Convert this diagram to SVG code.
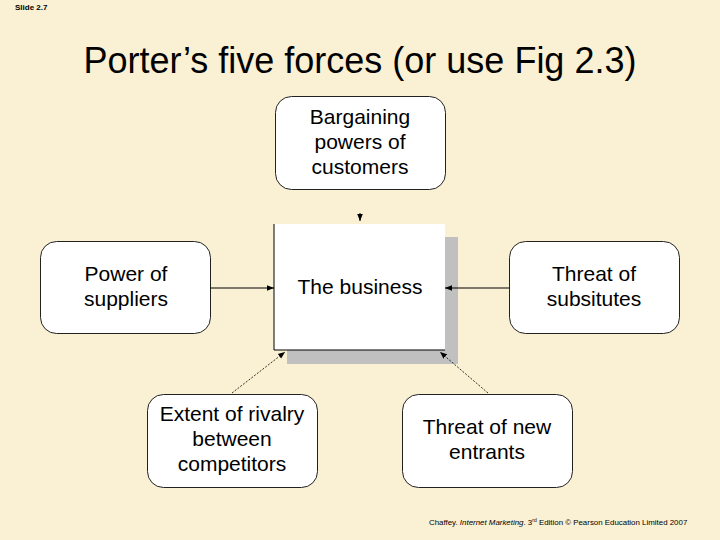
<svg xmlns="http://www.w3.org/2000/svg" width="720" height="540" viewBox="0 0 720 540">
<style>
.bg{fill:#FAF0D3}
.node{fill:#fff;stroke:#222;stroke-width:1}
.t{font-family:"Liberation Sans",Arial,sans-serif;font-size:21px;fill:#000;text-anchor:middle}
.conn{stroke:#000;stroke-width:1;fill:none}
.dash{stroke:#000;stroke-width:0.8;fill:none;stroke-dasharray:2 1.5}
</style>
<defs>
<marker id="ah" viewBox="0 0 10 10" refX="10" refY="5" markerWidth="7" markerHeight="7" orient="auto" markerUnits="userSpaceOnUse">
<path d="M0,1 L10,5 L0,9 Z" fill="#000"/>
</marker>
</defs>
<rect class="bg" x="0" y="0" width="720" height="540"/>
<text x="15" y="10" font-family="Liberation Sans,Arial,sans-serif" font-size="8" font-weight="bold" fill="#000">Slide 2.7</text>
<text x="360" y="73" font-family="Liberation Sans,Arial,sans-serif" font-size="36" text-anchor="middle" fill="#000">Porter’s five forces (or use Fig 2.3)</text>

<g id="business">
<rect x="287" y="237" width="171" height="127" fill="#C0C0C0"/>
<rect x="274" y="224" width="171" height="126" fill="#fff"/>
<polyline points="274,224 274,350 445,350" fill="none" stroke="#000" stroke-width="1"/>
<text class="t" x="360" y="294">The business</text>
</g>

<g id="customers">
<rect class="node" x="275.5" y="96.5" width="170" height="93" rx="16"/>
<text class="t" x="360" y="124">Bargaining</text>
<text class="t" x="360" y="149">powers of</text>
<text class="t" x="360" y="174">customers</text>
</g>

<g id="suppliers">
<rect class="node" x="40.5" y="241.5" width="170" height="92" rx="16"/>
<text class="t" x="126" y="281">Power of</text>
<text class="t" x="126" y="306">suppliers</text>
</g>

<g id="substitutes">
<rect class="node" x="509.5" y="241.5" width="170" height="92" rx="16"/>
<text class="t" x="594" y="281">Threat of</text>
<text class="t" x="594" y="306">subsitutes</text>
</g>

<g id="rivalry">
<rect class="node" x="147.5" y="394.5" width="170" height="93" rx="16"/>
<text class="t" x="232" y="421">Extent of rivalry</text>
<text class="t" x="232" y="446">between</text>
<text class="t" x="232" y="471">competitors</text>
</g>

<g id="entrants">
<rect class="node" x="402.5" y="394.5" width="170" height="93" rx="16"/>
<text class="t" x="487" y="434">Threat of new</text>
<text class="t" x="487" y="459">entrants</text>
</g>

<g id="connectors">
<line class="conn" x1="360" y1="213" x2="360" y2="221" marker-end="url(#ah)"/>
<line class="conn" x1="210" y1="288" x2="274" y2="288" marker-end="url(#ah)"/>
<line class="conn" x1="509" y1="288" x2="445" y2="288" marker-end="url(#ah)"/>
<line class="dash" x1="232" y1="393" x2="285" y2="352" marker-end="url(#ah)"/>
<line class="dash" x1="488" y1="393" x2="440" y2="352" marker-end="url(#ah)"/>
</g>

<text x="429" y="525" font-family="Liberation Sans,Arial,sans-serif" font-size="7.9" fill="#000">Chaffey. <tspan font-style="italic">Internet Marketing</tspan>. 3<tspan font-size="5" dy="-3">rd</tspan><tspan dy="3"> Edition © Pearson Education Limited 2007</tspan></text>
</svg>
